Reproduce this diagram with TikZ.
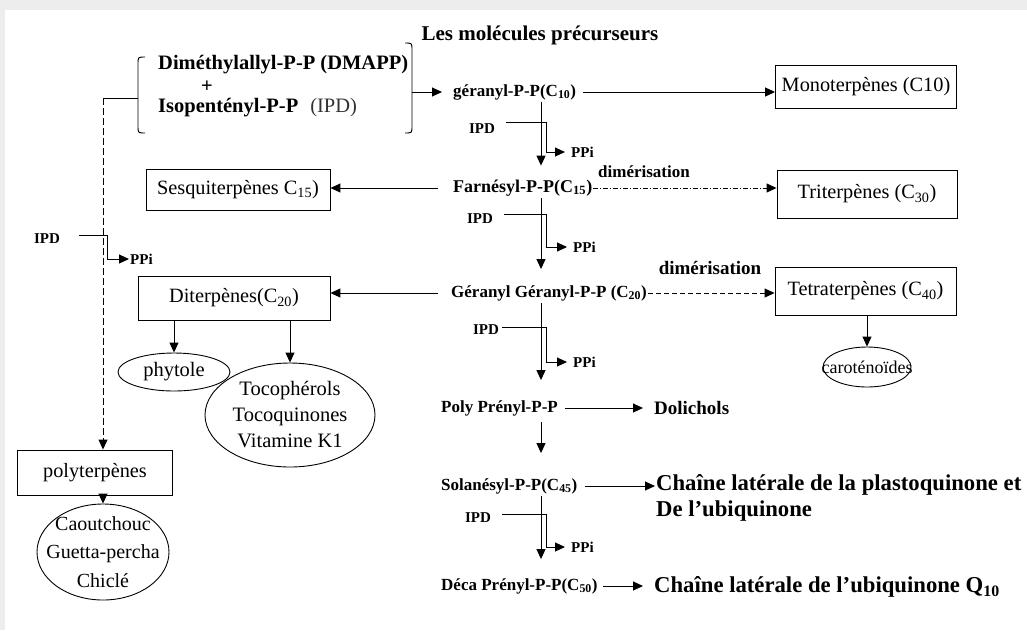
\documentclass[tikz,border=0pt]{standalone}
\usepackage{fontspec}
\setmainfont{Liberation Serif}
\usetikzlibrary{arrows.meta,shapes.geometric}
\begin{document}
\begin{tikzpicture}[x=1pt,y=-1pt,
  lbl/.style={font=\fontsize{17}{20}\selectfont\bfseries, inner sep=1pt},
  big/.style={font=\fontsize{20.5}{24}\selectfont\bfseries, inner sep=1pt},
  rtx/.style={font=\fontsize{22.7}{26}\selectfont\bfseries, inner sep=1pt},
  sml/.style={font=\fontsize{15}{17}\selectfont\bfseries, inner sep=1pt},
  boxn/.style={draw, line width=0.9pt, font=\fontsize{20.3}{23}\selectfont, inner sep=0pt},
  ellx/.style={draw, ellipse, line width=0.9pt, inner sep=0pt},
  etxt/.style={font=\fontsize{20.5}{26}\selectfont, align=center},
  ln/.style={line width=0.95pt},
  arr/.style={ln, -{Triangle[length=10pt,width=9pt]}},
]
\fill[black!7] (0,0) rectangle (1027,630);
\fill[white] (5,10) rectangle (1027,630);
\useasboundingbox (0,0) rectangle (1027,630);

% precursors
\node[big,font=\fontsize{21}{24}\selectfont\bfseries] (title) at (540,35) {Les molécules précurseurs};
\node[big,anchor=west] (dmapp) at (157,65) {Diméthylallyl-P-P (DMAPP)};
\node[big] (plus) at (207,87) {+};
\node[big,anchor=west] (ipp) at (157,108) {Isopentényl-P-P\hspace{12pt}{\mdseries\color{black!80}(IPD)}};
\draw[ln] (145,57) .. controls (138,57) .. (138,64) -- (138,126) .. controls (138,133) .. (145,133);
\draw[ln] (405,43) .. controls (412,43) .. (412,50) -- (412,126) .. controls (412,133) .. (405,133);
\coordinate (bR) at (412,92);
\coordinate (bL) at (138,98);
\coordinate (dv) at (103,98);
\coordinate (col) at (541,0);
\coordinate (col2) at (546,0);
\coordinate (colL) at (107,0);

% main chain
\node[lbl,anchor=west] (ger) at (452,92) {géranyl-P-P(C\textsubscript{10})};
\node[lbl,anchor=west,font=\fontsize{18}{21}\selectfont\bfseries] (far) at (452,188) {Farnésyl-P-P(C\textsubscript{15})};
\node[lbl,anchor=west] (gg) at (450,293) {Géranyl Géranyl-P-P (C\textsubscript{20})};
\node[lbl,anchor=west] (poly) at (440,408) {Poly Prényl-P-P};
\node[lbl,anchor=west] (sol) at (440,486) {Solanésyl-P-P(C\textsubscript{45})};
\node[lbl,anchor=west] (deca) at (440,586) {Déca Prényl-P-P(C\textsubscript{50})};
\node[lbl,anchor=west,font=\fontsize{19}{22}\selectfont\bfseries] (dol) at (653,408) {Dolichols};
\node[rtx,anchor=west] (ch1) at (655,485) {Chaîne latérale de la plastoquinone et};
\node[rtx,anchor=west] (ch1b) at (655,511) {De l’ubiquinone};
\node[rtx,anchor=west] (ch2) at (653,587) {Chaîne latérale de l’ubiquinone Q\textsubscript{10}};
\node[lbl] (dim1) at (644,172) {dimérisation};
\node[lbl,font=\fontsize{19}{22}\selectfont\bfseries] (dim2) at (710,268) {dimérisation};

% boxes
\node[boxn,minimum width=181pt,minimum height=43pt] (mono) at (866,86.5) {Monoterpènes (C10)};
\node[boxn,minimum width=180pt,minimum height=48pt] (tri) at (867,194) {Triterpènes (C\textsubscript{30})};
\node[boxn,minimum width=181pt,minimum height=48pt] (tetra) at (865.5,291) {Tetraterpènes (C\textsubscript{40})};
\node[boxn,minimum width=184pt,minimum height=41pt] (sesq) at (238,189.5) {Sesquiterpènes C\textsubscript{15})};
\node[boxn,minimum width=192pt,minimum height=44pt] (dit) at (234,298) {Diterpènes(C\textsubscript{20})};
\node[boxn,minimum width=155pt,minimum height=45pt] (polyt) at (95,472.5) {polyterpènes};

% ellipses
\node[ellx,minimum width=88pt,minimum height=40pt,label={[etxt,font=\fontsize{18}{20}\selectfont]center:caroténoïdes}] (car) at (867,367) {};
\node[ellx,minimum width=112pt,minimum height=38pt,label={[etxt]center:phytole}] (phy) at (174,372) {};
\node[ellx,minimum width=170pt,minimum height=104pt,label={[etxt]center:{Tocophérols\\Tocoquinones\\Vitamine K1}}] (toco) at (290,415) {};
\node[ellx,minimum width=132pt,minimum height=96pt,label={[etxt,font=\fontsize{20}{28.5}\selectfont]center:{Caoutchouc\\Guetta-percha\\Chiclé}}] (caou) at (103,552) {};

% connectors
\draw[arr, shorten >=10pt] (bR) -- (bR -| ger.west);
\draw[arr, shorten <=6pt] (ger.east) -- (ger.east -| mono.west);
\draw[arr, shorten <=1pt, shorten >=13pt] (ger.south -| col) -- (far.north -| col);
\draw[arr, shorten <=1pt, shorten >=15pt] (far.south -| col) -- (gg.north -| col);
\draw[arr, shorten <=1pt, shorten >=19pt] (gg.south -| col) -- (poly.north -| col);
\draw[arr, shorten <=5pt, shorten >=24pt] (poly.south -| col) -- (sol.north -| col);
\draw[arr, shorten <=1pt, shorten >=18pt] (sol.south -| col) -- (deca.north -| col);

\draw[arr, shorten <=14pt] (far.west) -- (far.west -| sesq.east);
\draw[arr, shorten <=12pt] (gg.west) -- (gg.west -| dit.east);
\draw[arr, dash pattern=on 5pt off 2pt on 1pt off 2pt] (far.east) -- (far.east -| tri.west);
\draw[arr, dash pattern=on 5pt off 3pt] (gg.east) -- (gg.east -| tetra.west);
\draw[arr, shorten <=6pt, shorten >=10pt] (poly.east) -- (poly.east -| dol.west);
\draw[arr, shorten <=6pt] (sol.east) -- (sol.east -| ch1.west);
\draw[arr, shorten <=4pt, shorten >=10pt] (deca.east) -- (deca.east -| ch2.west);

\draw[arr] (tetra.south -| car.north) -- (car.north);
\draw[arr] (dit.south -| phy.north) -- (phy.north);
\draw[arr] (dit.south -| toco.north) -- (toco.north);
\draw[arr] (polyt.south -| caou.north) -- (caou.north);

\draw[ln] (bL) -- (dv);
\draw[arr, dash pattern=on 7pt off 3pt] (dv) -- (dv |- polyt.north);

% IPD / PPi
\node[sml] (ipd1) at (482,129) {IPD};
\node[sml,anchor=west] (ppi1) at (570,152) {PPi};
\draw[arr, shorten >=5pt] ([xshift=10pt,yshift=7pt]ipd1.east) -| (col2 |- ppi1.west) -- (ppi1.west);
\node[sml] (ipd2) at (480,219) {IPD};
\node[sml,anchor=west] (ppi2) at (572,247) {PPi};
\draw[arr, shorten >=5pt] ([xshift=10pt,yshift=5pt]ipd2.east) -| (col2 |- ppi2.west) -- (ppi2.west);
\node[sml] (ipd3) at (486,330) {IPD};
\node[sml,anchor=west] (ppi3) at (572,362) {PPi};
\draw[arr, shorten >=5pt] ([xshift=2pt,yshift=3pt]ipd3.east) -| (col2 |- ppi3.west) -- (ppi3.west);
\node[sml] (ipd4) at (478,518) {IPD};
\node[sml,anchor=west] (ppi4) at (570,547) {PPi};
\draw[arr, shorten >=5pt] ([xshift=10pt,yshift=4pt]ipd4.east) -| (col2 |- ppi4.west) -- (ppi4.west);
\node[sml] (ipd0) at (47,239) {IPD};
\node[sml,anchor=west] (ppi0) at (129,259) {PPi};
\draw[arr] ([xshift=18pt,yshift=4pt]ipd0.east) -| (colL |- ppi0.west) -- (ppi0.west);
\end{tikzpicture}
\end{document}
